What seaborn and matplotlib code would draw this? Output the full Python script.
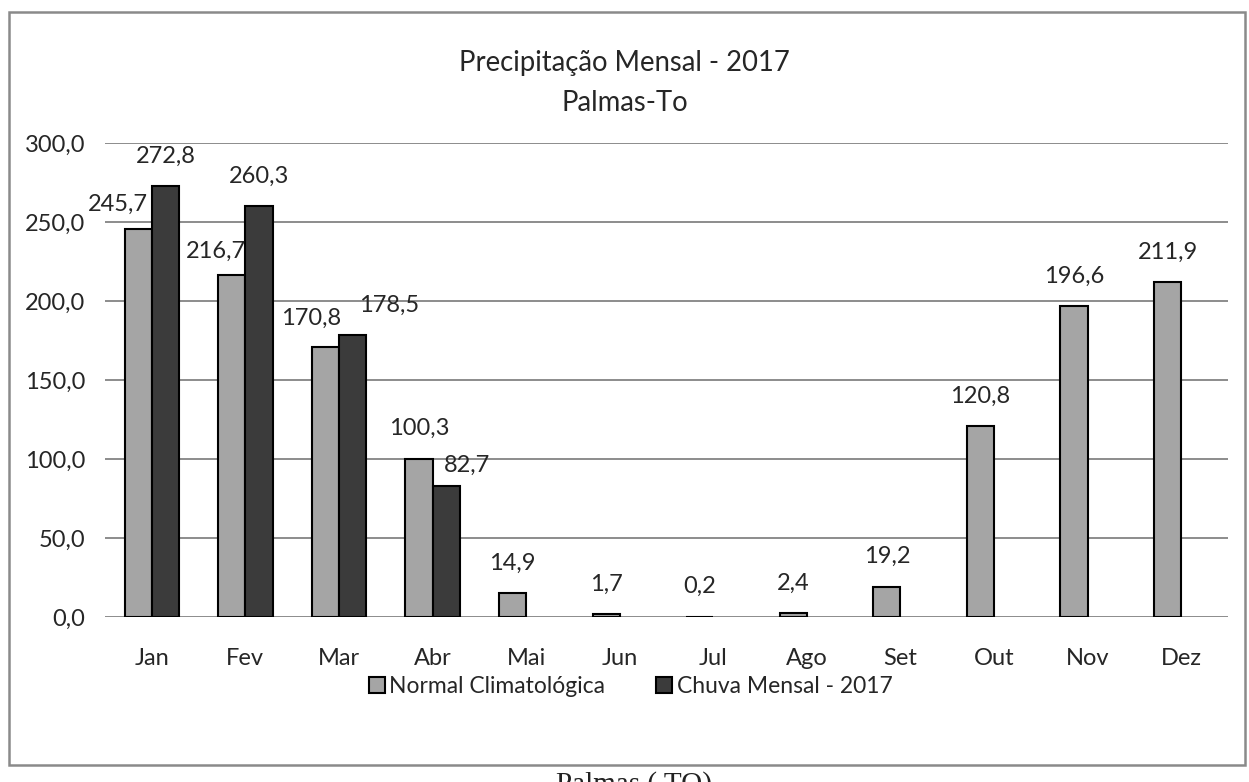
import numpy as np
import pandas as pd
import matplotlib
matplotlib.use("Agg")
import matplotlib.pyplot as plt
import seaborn as sns
from matplotlib.patches import Rectangle

# ---- data ----
meses = ["Jan", "Fev", "Mar", "Abr", "Mai", "Jun", "Jul", "Ago", "Set", "Out", "Nov", "Dez"]
normal = [245.7, 216.7, 170.8, 100.3, 14.9, 1.7, 0.2, 2.4, 19.2, 120.8, 196.6, 211.9]
chuva_2017 = [272.8, 260.3, 178.5, 82.7, np.nan, np.nan, np.nan, np.nan, np.nan, np.nan, np.nan, np.nan]
series = ["Normal Climatológica", "Chuva Mensal - 2017"]
yticks = [0, 50, 100, 150, 200, 250, 300]

df = pd.DataFrame({
    "mes": meses * 2,
    "serie": [series[0]] * 12 + [series[1]] * 12,
    "valor": normal + chuva_2017,
}).dropna()

sns.set_theme(style="white")
plt.rcParams["font.family"] = ["Lato", "DejaVu Sans"]

fig = plt.figure(figsize=(12.49, 7.82), dpi=100)
ax = fig.add_axes([105 / 1249, 1 - 617 / 782, 1123 / 1249, 474 / 782])

sns.barplot(data=df, x="mes", y="valor", hue="serie", order=meses, hue_order=series,
            palette=["#a5a5a5", "#3b3b3b"], width=0.58, edgecolor="black", linewidth=1.5,
            saturation=1, ax=ax, errorbar=None)

ax.set_ylim(0, 300)
ax.set_xlim(-0.5, 11.5)
ax.set_yticks(yticks)
ax.set_yticklabels([f"{v:.1f}".replace(".", ",") for v in yticks], fontsize=17, color="#262626")
ax.tick_params(axis="x", labelsize=17, length=0, pad=22, colors="#262626")
ax.tick_params(axis="y", length=0, pad=14)
ax.set_xlabel("")
ax.set_ylabel("")
for s in ax.spines.values():
    s.set_visible(False)
ax.yaxis.grid(True, color="#8c8c8c", linewidth=1.4)
ax.set_axisbelow(True)

# data labels (offsets in points, styling only)
label_offsets = {
    (0, 0): (-14.4, 17.3),
    (0, 1): (-11.5, 16.6),
    (0, 2): (-10.0, 20.9),
    (1, 2): (26.6, 21.6),
    (1, 3): (15.1, 15.1),
}
for si, cont in enumerate(ax.containers):
    for bi, bar in enumerate(cont):
        h = bar.get_height()
        if np.isnan(h):
            continue
        dx, dy = label_offsets.get((si, bi), (0, 21.5))
        ax.annotate(f"{h:.1f}".replace(".", ","),
                    (bar.get_x() + bar.get_width() / 2, h),
                    xytext=(dx, dy), textcoords="offset points",
                    ha="center", va="center", fontsize=17, color="#262626")

sns.move_legend(ax, "center", bbox_to_anchor=(0.468, -0.146), ncol=2, frameon=False,
                title=None, fontsize=16.5, handlelength=0.7, handleheight=0.7,
                handletextpad=0.2, columnspacing=2.2)

fig.text(0.5, 1 - 63 / 782, "Precipitação Mensal - 2017", ha="center", va="center",
         fontsize=19.8, color="#262626")
fig.text(0.5, 1 - 103 / 782, "Palmas-To", ha="center", va="center",
         fontsize=19.8, color="#262626")

fig.patches.append(Rectangle((9 / 1249, 1 - 765 / 782), 1236 / 1249, 753 / 782,
                             transform=fig.transFigure, fill=False,
                             edgecolor="#8a8a8a", linewidth=1.8))

fig.text(634 / 1249, 1 - 792 / 782, "Palmas ( TO)", ha="center", va="baseline",
         fontsize=21, family="Liberation Serif", color="#222222")

fig.savefig("out.png", dpi=100)
